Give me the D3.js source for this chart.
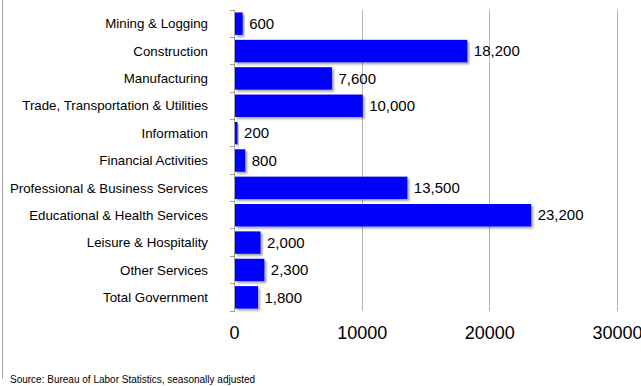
<!DOCTYPE html>
<html><head><meta charset="utf-8">
<script src="https://cdn.jsdelivr.net/npm/d3@7"></script>
<style>body{margin:0;background:#fff}svg{display:block;font-family:"Liberation Sans",Arial,sans-serif}</style>
</head><body>
<svg id="c" width="641" height="386"></svg>
<script>
const categories = ["Mining & Logging","Construction","Manufacturing","Trade, Transportation & Utilities","Information","Financial Activities","Professional & Business Services","Educational & Health Services","Leisure & Hospitality","Other Services","Total Government"];
const values = [600,18200,7600,10000,200,800,13500,23200,2000,2300,1800];
const xTicks = [0,10000,20000,30000];
const source = "Source: Bureau of Labor Statistics, seasonally adjusted";

const svg = d3.select("#c");
const x = d3.scaleLinear().domain([0,30000]).range([234.5,617.5]);
const y = d3.scaleBand().domain(categories).range([10,311]).paddingInner(0.18).paddingOuter(0.09);

const defs = svg.append("defs");
const f = defs.append("filter").attr("id","sh").attr("x","-20%").attr("y","-30%").attr("width","150%").attr("height","180%");
f.append("feDropShadow").attr("dx",2).attr("dy",2).attr("stdDeviation",1.2).attr("flood-color","#000").attr("flood-opacity",0.35);

// frame left border
svg.append("line").attr("x1",2.5).attr("x2",2.5).attr("y1",0).attr("y2",378).attr("stroke","#a0a0a0");

// gridlines
svg.append("g").selectAll("line").data(xTicks.slice(1)).join("line")
  .attr("x1",d=>x(d)).attr("x2",d=>x(d)).attr("y1",10).attr("y2",311)
  .attr("stroke","#b4b4b4").attr("stroke-width",1).attr("shape-rendering","crispEdges");

// left axis
svg.append("line").attr("x1",x(0)).attr("x2",x(0)).attr("y1",10).attr("y2",311).attr("stroke","#a0a0a0").attr("shape-rendering","crispEdges");
const bounds = d3.range(categories.length+1).map(i=>10+ (311-10)*i/categories.length);
svg.append("g").selectAll("line").data(bounds).join("line")
  .attr("x1",x(0)-5).attr("x2",x(0)).attr("y1",d=>d).attr("y2",d=>d)
  .attr("stroke","#a0a0a0").attr("shape-rendering","crispEdges");

// bars
svg.append("g").selectAll("rect").data(values).join("rect")
  .attr("x",x(0)+0.5).attr("y",(d,i)=>y(categories[i]))
  .attr("width",d=>x(d)-x(0)).attr("height",y.bandwidth())
  .attr("fill","#0000ff").attr("filter","url(#sh)");

// value labels
svg.append("g").selectAll("text").data(values).join("text")
  .attr("x",d=>x(d)+7).attr("y",(d,i)=>y(categories[i])+y.bandwidth()/2)
  .attr("dy","0.35em").attr("font-size",15).attr("fill","#000")
  .text(d=>d3.format(",")(d));

// category labels
svg.append("g").selectAll("text").data(categories).join("text")
  .attr("x",208).attr("y",d=>y(d)+y.bandwidth()/2).attr("dy","0.35em")
  .attr("text-anchor","end").attr("font-size",13.3).attr("fill","#000").text(d=>d);

// x tick labels
svg.append("g").selectAll("text").data(xTicks).join("text")
  .attr("x",d=>x(d)).attr("y",333).attr("dy","0.35em").attr("text-anchor","middle")
  .attr("font-size",18).attr("fill","#000").text(d=>d);

svg.append("text").attr("x",10).attr("y",383).attr("font-size",10).attr("fill","#000").text(source);
</script>
</body></html>
